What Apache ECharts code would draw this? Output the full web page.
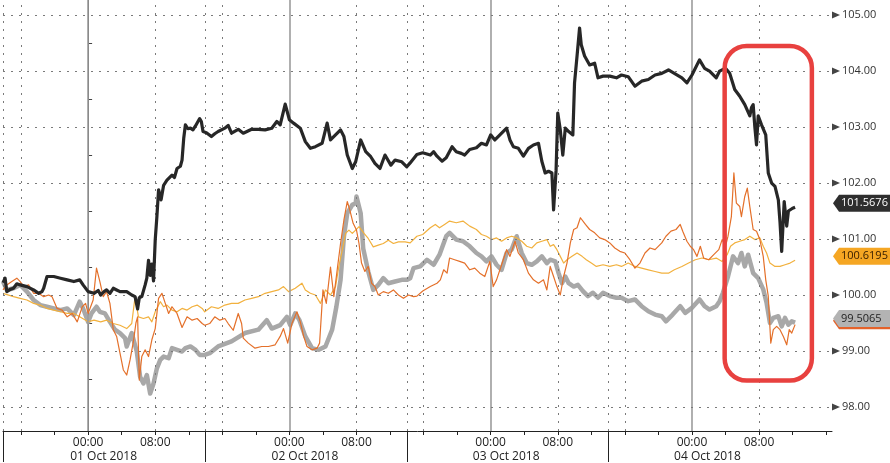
<!DOCTYPE html>
<html><head><meta charset="utf-8">
<script src="https://cdn.jsdelivr.net/npm/echarts@6/dist/echarts.min.js"></script>
<style>html,body{margin:0;padding:0;background:#fff}#c{width:890px;height:463px}</style>
</head><body><div id="c"></div>
<script>
// Hours relative to 00:00, 01 Oct 2018
const blackSeries = [[-10.15,100.22],[-9.9,100.3],[-9.7,100.06],[-9.3,100.1],[-8.9,100.12],[-8.5,100.2],[-8.1,100.18],[-7.3,100.15],[-6.5,100.09],[-5.9,100.03],[-5.5,100.06],[-5.3,100.12],[-4.9,100.33],[-4.7,100.36],[-4.1,100.33],[-3.3,100.3],[-2.5,100.27],[-1.7,100.24],[-1.0,100.27],[-0.6,100.18],[0,100.06],[0.7,100.03],[1.2,100.08],[1.5,100.0],[1.9,100.06],[2.2,100.09],[2.6,100.03],[3.0,100.12],[3.4,100.09],[3.8,100.06],[4.6,100.06],[5.2,100.0],[5.6,99.97],[5.9,99.75],[6.1,99.95],[6.4,99.97],[6.8,100.18],[7.0,100.3],[7.2,100.62],[7.4,100.35],[7.6,100.55],[7.8,100.25],[8.0,100.98],[8.2,101.4],[8.4,101.88],[8.7,101.7],[9.0,101.96],[9.4,102.05],[10.0,102.14],[10.3,102.1],[10.6,102.26],[11.0,102.3],[11.2,102.41],[11.4,102.8],[11.6,103.04],[11.9,102.97],[12.2,102.98],[12.5,102.95],[12.8,103.02],[13.1,103.1],[13.3,103.15],[13.5,103.1],[13.7,102.92],[14.1,102.9],[14.7,102.83],[15.1,102.88],[15.5,102.92],[16.3,102.98],[16.7,103.03],[17.1,102.89],[17.9,102.96],[18.5,102.89],[19.5,102.96],[20.3,102.96],[21.1,102.95],[21.9,102.98],[22.5,103.1],[22.9,103.04],[23.5,103.41],[24.0,103.13],[24.5,103.07],[25.3,102.98],[25.9,102.74],[26.5,102.62],[27.1,102.65],[27.9,102.71],[28.5,103.07],[28.9,102.77],[29.5,102.86],[30.1,102.95],[30.5,102.83],[30.9,102.5],[31.5,102.26],[31.9,102.38],[32.5,102.77],[33.1,102.56],[33.7,102.47],[34.2,102.35],[34.8,102.26],[35.4,102.5],[36.1,102.32],[36.6,102.41],[37.4,102.38],[38.0,102.29],[38.4,102.36],[39.2,102.51],[39.9,102.54],[40.8,102.5],[41.2,102.56],[41.6,102.48],[42.2,102.39],[42.7,102.45],[43.4,102.65],[43.9,102.56],[44.5,102.53],[44.9,102.5],[45.5,102.6],[46.3,102.63],[46.9,102.71],[47.5,102.68],[48.0,102.86],[48.5,102.77],[49.1,102.86],[49.9,102.98],[50.3,102.77],[50.7,102.65],[51.3,102.62],[51.9,102.48],[52.5,102.62],[53.1,102.68],[53.7,102.71],[54.1,102.39],[54.5,102.18],[54.9,102.21],[55.3,102.18],[55.5,101.52],[55.8,102.23],[56.0,103.25],[56.3,102.95],[56.6,102.5],[56.9,102.98],[57.3,102.92],[57.8,102.86],[58.0,103.79],[58.3,104.27],[58.6,104.77],[58.8,104.47],[59.2,104.27],[59.8,104.11],[60.4,104.14],[60.8,103.88],[61.4,103.91],[62.2,103.91],[63.0,103.88],[63.6,103.93],[64.4,103.9],[65.2,103.73],[66.0,103.82],[66.8,103.85],[67.6,103.93],[68.4,103.96],[69.2,104.02],[69.9,103.96],[70.8,103.88],[71.4,103.79],[72.0,103.93],[72.9,104.2],[73.5,104.05],[74.1,104.0],[74.9,103.88],[75.3,104.0],[76.0,104.05],[76.5,103.96],[77.1,103.67],[77.7,103.55],[78.3,103.4],[78.9,103.2],[79.1,103.35],[79.3,103.4],[79.5,103.0],[79.7,102.68],[79.9,103.2],[80.3,103.04],[80.8,102.86],[81.1,102.18],[81.5,102.0],[81.9,101.94],[82.3,101.7],[82.5,101.3],[82.7,100.78],[83.0,101.67],[83.3,101.23],[83.5,101.5],[83.7,101.5],[84.0,101.55],[84.3,101.5676]];

const graySeries = [[-10.15,100.24],[-9.7,100.09],[-8.9,100.12],[-8.1,100.18],[-7.3,100.06],[-6.5,99.91],[-5.7,99.82],[-4.9,99.79],[-4.1,99.76],[-3.3,99.73],[-2.5,99.76],[-1.7,99.64],[-1.0,99.88],[-0.6,99.76],[0,99.52],[0.4,99.67],[1.0,99.79],[1.4,99.7],[2.0,99.67],[2.6,99.52],[3.2,99.38],[3.8,99.32],[4.4,99.23],[4.6,99.08],[5.2,99.32],[5.8,98.99],[6.2,98.54],[6.6,98.42],[7.0,98.57],[7.4,98.24],[7.8,98.42],[8.2,98.69],[8.6,98.84],[9.0,98.9],[9.6,98.87],[10.0,99.05],[10.6,99.02],[11.2,98.99],[11.6,99.05],[12.2,99.08],[12.8,99.02],[13.3,98.93],[13.9,98.93],[14.5,98.96],[15.5,99.08],[17.1,99.17],[18.7,99.32],[20.3,99.38],[21.3,99.55],[21.9,99.4],[22.9,99.46],[23.7,99.61],[24.1,99.46],[24.7,99.67],[25.2,99.55],[25.9,99.26],[26.7,99.05],[27.5,99.02],[28.3,99.08],[29.1,99.38],[29.6,99.79],[30.1,100.27],[30.5,101.04],[30.9,101.46],[31.5,101.61],[31.9,101.64],[32.0,101.76],[32.5,101.46],[32.8,100.83],[33.4,100.42],[34.0,100.09],[34.6,100.18],[35.2,100.3],[35.8,100.21],[36.6,100.24],[37.4,100.27],[38.0,100.27],[38.4,100.3],[38.8,100.48],[39.6,100.51],[40.4,100.63],[41.2,100.54],[41.9,100.72],[42.7,101.05],[43.1,101.11],[43.9,100.99],[44.7,100.96],[45.5,100.87],[46.3,100.75],[46.9,100.69],[47.5,100.6],[48.1,100.69],[48.7,100.54],[49.3,100.45],[49.9,100.75],[50.5,100.81],[51.1,101.05],[51.7,100.75],[52.3,100.57],[52.9,100.54],[53.5,100.6],[54.1,100.69],[54.7,100.57],[55.1,100.63],[55.7,100.6],[56.1,100.39],[56.5,100.21],[56.9,100.33],[57.3,100.21],[57.9,100.15],[58.4,100.18],[59.0,100.07],[59.6,99.98],[60.2,100.04],[60.8,99.95],[61.4,100.04],[62.2,99.98],[63.0,99.95],[63.6,99.95],[64.4,99.89],[65.2,99.92],[66.0,99.8],[66.8,99.71],[67.6,99.65],[68.4,99.62],[68.9,99.53],[69.7,99.65],[70.6,99.8],[71.2,99.68],[72.0,99.77],[72.9,99.92],[73.5,99.8],[74.1,99.74],[74.9,99.8],[75.3,99.89],[75.7,100.04],[76.3,100.33],[76.9,100.69],[77.5,100.57],[77.9,100.75],[78.3,100.51],[78.7,100.72],[79.3,100.39],[79.9,100.3],[80.5,100.1],[80.9,99.86],[81.3,99.5],[81.7,99.59],[82.3,99.62],[82.7,99.44],[83.1,99.59],[83.5,99.47],[83.9,99.53],[84.3,99.5065]];

const orangeSeries = [[-10.15,100.09],[-9.7,100.18],[-9.1,100.24],[-8.5,100.3],[-8.1,100.24],[-7.7,100.15],[-7.1,100.18],[-6.5,100.03],[-5.9,100.03],[-5.3,99.97],[-4.7,100.0],[-4.3,99.97],[-3.7,99.76],[-3.1,99.73],[-2.5,99.61],[-1.9,99.67],[-1.3,99.52],[-0.7,99.79],[-0.3,99.85],[0,99.67],[0.6,99.91],[1.0,100.48],[1.4,100.24],[1.8,99.97],[2.2,100.06],[2.6,99.85],[3.0,99.38],[3.4,99.26],[3.8,98.96],[4.2,98.66],[4.6,98.57],[5.0,98.84],[5.4,99.17],[5.7,99.5],[5.9,99.61],[6.1,98.48],[6.4,98.9],[6.8,99.02],[7.2,98.9],[7.6,99.2],[8.0,99.4],[8.4,99.94],[8.8,100.03],[9.2,99.85],[9.6,99.67],[10.0,99.79],[10.6,99.67],[11.2,99.42],[11.8,99.61],[12.4,99.55],[13.0,99.58],[13.6,99.49],[13.9,99.46],[14.5,99.49],[15.1,99.61],[15.7,99.55],[16.3,99.58],[16.7,99.49],[17.3,99.37],[17.9,99.67],[18.3,99.49],[18.5,99.23],[19.1,99.14],[19.9,99.05],[20.7,99.08],[21.5,99.08],[22.3,99.11],[22.9,99.26],[23.3,99.4],[23.8,99.14],[24.3,99.49],[24.9,99.7],[25.3,99.52],[25.7,99.26],[26.1,99.08],[26.7,99.02],[27.3,99.05],[27.6,99.14],[28.0,100.09],[28.4,99.85],[28.9,100.5],[29.3,99.97],[29.7,100.45],[30.1,100.92],[30.5,101.34],[30.9,101.67],[31.2,101.52],[31.6,101.28],[32.0,101.16],[32.3,100.92],[32.6,100.57],[33.0,100.42],[33.4,100.51],[33.8,100.21],[34.2,100.15],[34.6,100.0],[35.2,100.06],[35.8,100.03],[36.4,100.09],[37.0,100.0],[37.6,99.94],[38.2,100.0],[38.8,99.97],[39.2,99.98],[39.9,100.07],[40.8,100.15],[41.6,100.21],[42.0,100.27],[42.4,100.45],[42.8,100.39],[43.1,100.66],[43.7,100.63],[44.3,100.6],[44.9,100.57],[45.5,100.45],[46.1,100.48],[46.7,100.39],[47.3,100.33],[47.9,100.6],[48.3,100.15],[48.7,100.27],[49.3,100.54],[49.9,100.81],[50.3,100.69],[50.9,100.96],[51.3,100.75],[51.9,100.63],[52.5,100.39],[53.1,100.27],[53.7,100.21],[54.3,100.27],[54.7,100.09],[55.1,100.51],[55.5,100.33],[55.9,100.15],[56.3,100.0],[56.7,100.33],[57.1,100.57],[57.5,100.93],[57.9,101.17],[58.3,101.2],[58.7,101.38],[59.3,101.26],[59.8,101.17],[60.4,101.11],[61.0,101.02],[61.6,100.99],[62.2,100.93],[62.8,100.84],[63.4,100.78],[64.0,100.75],[64.6,100.63],[65.2,100.48],[65.8,100.57],[66.4,100.75],[67.0,100.84],[67.6,100.81],[68.4,100.93],[68.9,101.05],[69.5,101.14],[70.1,101.17],[70.6,101.26],[70.9,101.14],[71.4,100.96],[71.8,100.87],[72.2,100.81],[72.6,100.69],[73.0,100.87],[73.4,100.66],[74.0,100.63],[74.6,100.72],[75.2,100.81],[75.6,100.99],[76.0,100.87],[76.3,101.05],[76.7,101.4],[77.0,102.18],[77.3,101.64],[77.7,101.58],[77.9,101.4],[78.3,101.76],[78.6,101.91],[78.9,101.58],[79.3,101.17],[79.7,101.14],[80.1,100.99],[80.5,100.69],[80.8,100.27],[81.1,99.98],[81.4,99.14],[81.7,99.38],[82.1,99.44],[82.5,99.38],[82.9,99.26],[83.3,99.11],[83.6,99.38],[83.9,99.32],[84.3,99.47]];

const yellowSeries = [[-10.15,100.03],[-8.9,99.97],[-8.1,99.94],[-7.3,99.91],[-6.5,99.85],[-5.7,99.82],[-4.9,99.76],[-4.1,99.73],[-3.3,99.7],[-2.5,99.67],[-1.7,99.67],[-1.0,99.61],[0,99.52],[0.7,99.55],[1.5,99.52],[2.2,99.55],[3.0,99.49],[3.8,99.46],[4.6,99.4],[5.2,99.49],[5.6,99.97],[6.0,99.61],[6.6,99.58],[7.2,99.61],[7.6,99.52],[8.0,99.7],[8.6,99.88],[9.0,99.79],[9.4,99.82],[10.0,99.73],[10.6,99.7],[11.2,99.76],[11.8,99.73],[12.4,99.79],[13.0,99.82],[13.6,99.76],[13.9,99.7],[14.7,99.79],[15.5,99.76],[16.3,99.82],[17.1,99.85],[17.9,99.85],[18.7,99.91],[19.5,99.94],[20.3,99.97],[21.1,100.03],[21.9,100.06],[22.7,100.09],[23.3,100.15],[23.9,100.06],[24.7,100.12],[25.5,100.21],[25.9,100.09],[26.5,100.03],[27.1,100.0],[27.7,99.85],[28.3,100.09],[28.9,100.0],[29.5,100.15],[29.9,100.51],[30.3,100.8],[30.7,101.1],[31.1,101.16],[31.5,101.1],[31.9,101.16],[32.3,101.22],[32.9,101.1],[33.4,101.01],[34.0,100.86],[34.6,100.89],[35.2,100.92],[35.8,100.98],[36.4,100.92],[37.0,100.95],[37.8,100.95],[38.4,100.93],[39.2,101.05],[39.9,101.08],[40.8,101.2],[41.4,101.26],[41.9,101.2],[42.5,101.26],[43.1,101.32],[43.9,101.29],[44.7,101.32],[45.5,101.23],[46.3,101.17],[46.9,101.08],[47.5,101.05],[48.1,100.99],[48.7,101.02],[49.3,100.96],[49.9,101.02],[50.5,101.05],[51.1,101.02],[51.7,100.96],[52.3,100.87],[52.9,100.84],[53.5,100.93],[54.1,100.96],[54.7,100.99],[55.1,100.87],[55.5,100.9],[55.9,100.81],[56.3,100.69],[56.7,100.57],[57.1,100.63],[57.7,100.69],[58.3,100.75],[58.9,100.69],[59.4,100.63],[60.0,100.57],[60.6,100.51],[61.4,100.54],[62.2,100.51],[63.0,100.54],[63.6,100.51],[64.4,100.57],[65.2,100.51],[66.0,100.48],[66.8,100.45],[67.6,100.42],[68.4,100.39],[69.2,100.39],[69.9,100.45],[70.8,100.51],[71.6,100.57],[72.4,100.63],[73.2,100.66],[74.0,100.63],[74.9,100.66],[75.6,100.6],[76.2,100.72],[76.6,100.87],[77.1,100.93],[77.7,100.96],[78.3,100.99],[78.9,101.05],[79.5,100.99],[80.1,101.02],[80.5,100.87],[80.9,100.75],[81.3,100.57],[81.9,100.51],[82.5,100.51],[83.1,100.54],[83.7,100.57],[84.3,100.6195]];

const yTickValues = [98, 99, 100, 101, 102, 103, 104, 105];
const yMinorValues = [98.5, 99.5, 100.5, 101.5, 102.5, 103.5, 104.5];
const xTickHours = [-8,-4,0,4,8,12,16,20,24,28,32,36,40,44,48,52,56,60,64,68,72,76,80,84,88];
const timeLabelHours = [0, 8, 24, 32, 48, 56, 72, 80];
const dayLabels = ['01 Oct 2018', '02 Oct 2018', '03 Oct 2018', '04 Oct 2018'];
const dayLabelHours = [1.85, 25.85, 49.85, 73.85];
const daySeparatorHours = [-10.1, 14, 38, 62];
const midnightHours = [0, 24, 48, 72];
const dottedHours = [-10.1, -8, 8, 14, 16, 32, 38, 40, 56, 62, 64, 80];
const highlightBox = { fromHour: 75.9, toHour: 86.3, top: 104.45, bottom: 98.47 };

const X_MIN = -10.15, X_MAX = 88.7, Y_MIN = 97.57, Y_MAX = 105.27;
const FONT = 'Open Sans';
const C_BLACK = '#272727', C_GRAY = '#a8a8a8', C_ORANGE = '#e4702a', C_YELLOW = '#f2b13e';

const chart = echarts.init(document.getElementById('c'));

const gridLines = [];
midnightHours.forEach(h => gridLines.push({ xAxis: h, lineStyle: { color: '#9c9c9c', width: 1.6, type: 'solid' } }));
dottedHours.forEach(h => gridLines.push({ xAxis: h, lineStyle: { color: '#7a7a7a', width: 1, type: [2, 6] } }));
yTickValues.forEach(v => gridLines.push({ yAxis: v, lineStyle: { color: '#7a7a7a', width: 1, type: [2, 6] } }));

function lineSeries(name, data, color, width, z) {
  return { name, type: 'line', data, showSymbol: false, symbol: 'none', z,
    lineStyle: { color, width, join: 'round' }, itemStyle: { color }, animation: false, silent: true };
}

chart.setOption({
  backgroundColor: '#ffffff',
  animation: false,
  textStyle: { fontFamily: FONT },
  grid: { left: 3, right: 58, top: 0, bottom: 31 },
  xAxis: [
    { type: 'value', min: X_MIN, max: X_MAX, position: 'bottom',
      axisLine: { show: true, lineStyle: { color: '#222', width: 1 } },
      axisTick: { show: true, customValues: xTickHours, length: 4, lineStyle: { color: '#222' } },
      axisLabel: { customValues: timeLabelHours, margin: 6, color: '#222', fontSize: 12, fontFamily: FONT,
        formatter: v => (Math.round(v) % 24 === 0 ? '00:00' : '08:00') },
      splitLine: { show: false } },
    { type: 'value', min: X_MIN, max: X_MAX, position: 'bottom',
      axisLine: { show: false },
      axisTick: { show: true, customValues: daySeparatorHours, length: 31, lineStyle: { color: '#222', width: 1 } },
      axisLabel: { customValues: dayLabelHours, margin: 20, color: '#222', fontSize: 12, fontFamily: FONT,
        formatter: v => dayLabels[Math.round((v - dayLabelHours[0]) / 24)] },
      splitLine: { show: false } }
  ],
  yAxis: [
    { type: 'value', min: Y_MIN, max: Y_MAX, position: 'right',
      axisLine: { show: true, lineStyle: { color: '#444', width: 1 } },
      axisTick: { show: false },
      axisLabel: { customValues: yTickValues, margin: 10, color: '#333', fontSize: 11, fontFamily: FONT,
        formatter: v => v.toFixed(2) },
      splitLine: { show: false } },
    { type: 'value', min: Y_MIN, max: Y_MAX, position: 'right',
      axisLine: { show: false },
      axisTick: { show: true, customValues: yMinorValues, length: 4, lineStyle: { color: '#444' } },
      axisLabel: { show: false }, splitLine: { show: false } }
  ],
  series: [
    { type: 'line', data: [], z: 1, silent: true,
      markLine: { silent: true, symbol: ['none', 'none'], label: { show: false }, animation: false, data: gridLines } },
    lineSeries('gray', graySeries, C_GRAY, 4.5, 3),
    lineSeries('yellow', yellowSeries, C_YELLOW, 1.2, 4),
    lineSeries('orange', orangeSeries, C_ORANGE, 1.2, 5),
    lineSeries('black', blackSeries, C_BLACK, 3.2, 6)
  ]
});

function px(h, v) { return chart.convertToPixel({ xAxisIndex: 0, yAxisIndex: 0 }, [h, v]); }
const axisX = px(X_MAX, Y_MIN)[0];
const graphics = [];
// tick triangles
yTickValues.forEach(v => {
  const y = px(X_MIN, v)[1];
  graphics.push({ type: 'polygon', z: 50, shape: { points: [[axisX, y - 3.5], [axisX, y + 3.5], [axisX + 8, y]] }, style: { fill: '#444' } });
});
function tag(value, text, fill, textColor) {
  const y = px(X_MIN, value)[1] - 4;
  graphics.push({ type: 'polygon', z: 60, shape: { points: [[axisX + 1, y], [axisX + 7, y - 8.5], [890, y - 8.5], [890, y + 8.5], [axisX + 7, y + 8.5]] }, style: { fill } });
  if (text) graphics.push({ type: 'text', z: 61, style: { x: axisX + 9, y, text, fill: textColor, font: '11px "' + FONT + '"', textVerticalAlign: 'middle', verticalAlign: 'middle' } });
}
const last = a => a[a.length - 1][1];
tag(last(orangeSeries), null, '#e4622a', '#222');
tag(last(graySeries), last(graySeries).toFixed(4), '#b3b3b3', '#222');
tag(last(yellowSeries), last(yellowSeries).toFixed(4), '#f5a623', '#3a2000');
tag(last(blackSeries), last(blackSeries).toFixed(4), '#2e2e2e', '#ffffff');
// highlight box
const p1 = px(highlightBox.fromHour, highlightBox.top), p2 = px(highlightBox.toHour, highlightBox.bottom);
graphics.push({ type: 'rect', z: 70, shape: { x: p1[0], y: p1[1], width: p2[0] - p1[0], height: p2[1] - p1[1], r: 22 },
  style: { fill: 'none', stroke: '#e8413f', lineWidth: 4.5 } });
chart.setOption({ graphic: graphics });
</script></body></html>
